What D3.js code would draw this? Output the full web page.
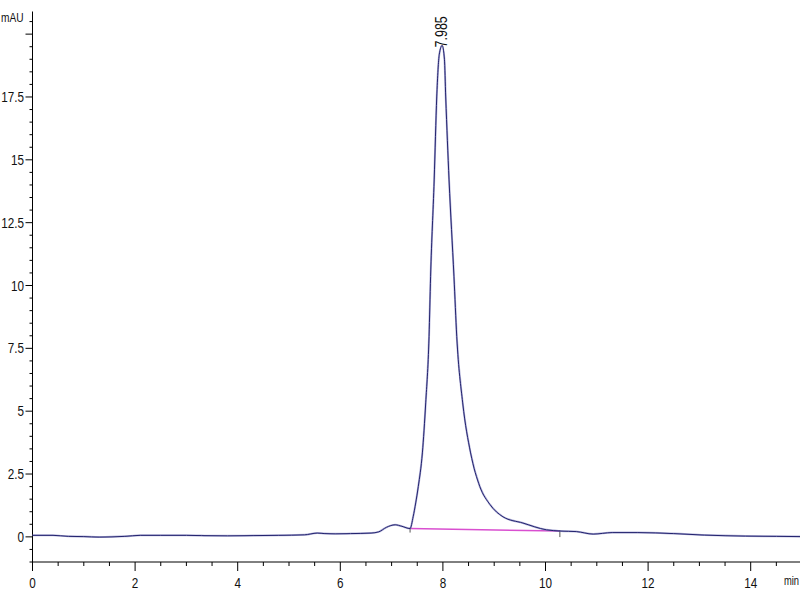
<!DOCTYPE html>
<html>
<head>
<meta charset="utf-8">
<script src="https://cdn.jsdelivr.net/npm/d3@7"></script>
<style>
  body { margin: 0; background: #fff; }
  svg text { font-family: "Liberation Sans", Arial, sans-serif; fill: #111; }
</style>
</head>
<body>
<svg id="chart" width="800" height="600"></svg>
<script>
// retention time (min) and absorbance (mAU)
var times = [0, 0.4, 0.7, 1.0, 1.3, 1.8, 2.1, 2.5, 3.0, 3.3, 3.8, 4.3, 4.8, 5.3, 5.55, 5.7, 5.9, 6.2, 6.6, 6.75,
             6.9, 7.07, 7.2, 7.36, 7.42, 7.47, 7.52, 7.6, 7.665, 7.73, 7.76, 7.83, 7.88, 7.93, 7.985,
             8.03, 8.055, 8.12, 8.216, 8.27, 8.386, 8.54, 8.72, 8.92, 9.17, 9.56, 10.02, 10.3, 10.6,
             10.93, 11.3, 11.8, 12.5, 13.1, 13.9, 14.5, 15.0];
var signal = [0.06, 0.06, 0.02, 0.01, -0.01, 0.02, 0.06, 0.06, 0.06, 0.05, 0.04, 0.05, 0.06, 0.08, 0.15, 0.13, 0.12, 0.13, 0.15, 0.2,
              0.38, 0.48, 0.42, 0.33, 0.8, 1.35, 2.0, 3.34, 5.33, 7.97, 10.35, 14.2, 17.5, 19.2, 19.55,
              19.0, 17.5, 14.2, 10.35, 7.97, 5.33, 3.34, 2.0, 1.28, 0.8, 0.55, 0.28, 0.23, 0.21,
              0.11, 0.17, 0.17, 0.13, 0.07, 0.03, 0.02, 0.01];
// integration baseline under the main peak
var baseT = [7.36, 10.28];
var baseV = [0.33, 0.23];
var peakRT = 7.985, peakTop = 19.55;

var yTicks = [0, 2.5, 5, 7.5, 10, 12.5, 15, 17.5];
var xTicks = [0, 2, 4, 6, 8, 10, 12, 14];

var svg = d3.select("#chart");
var x = d3.scaleLinear().domain([0, 15]).range([32.5, 802]);
var y = d3.scaleLinear().domain([-1, 21]).range([562, 9]);

// narrow text like the instrument export
function narrow(sel, px, py, size, anchor, rot){
    return sel.append("text")
        .attr("transform", "translate(" + px + "," + py + ")" + (rot ? " rotate(" + rot + ")" : "") + " scale(0.78,1)")
        .attr("text-anchor", anchor || "start")
        .style("font-size", size + "px");
}

var yAxis = svg.append("g");
yAxis.append("line").attr("x1", x(0)).attr("x2", x(0)).attr("y1", y(20.9)).attr("y2", y(-1))
    .attr("stroke", "#000");
d3.range(-1, 21, 0.5).forEach(function(v){
    var major = Math.abs(v % 2.5) < 1e-9;
    yAxis.append("line").attr("x1", x(0) - (major ? 7 : 3)).attr("x2", x(0))
        .attr("y1", y(v)).attr("y2", y(v)).attr("stroke", "#000");
});
yTicks.forEach(function(d){
    narrow(yAxis, 24, y(d) + 5, 15, "end").text(d);
});
narrow(svg, 1, 22, 13).text("mAU");

var xAxis = svg.append("g");
xAxis.append("line").attr("x1", x(0)).attr("x2", 800).attr("y1", y(-1)).attr("y2", y(-1))
    .attr("stroke", "#000");
d3.range(0, 15.01, 0.5).forEach(function(t){
    var major = Math.abs(t % 2) < 1e-9;
    xAxis.append("line").attr("x1", x(t)).attr("x2", x(t))
        .attr("y1", y(-1)).attr("y2", y(-1) + (major ? 9 : 4)).attr("stroke", "#000");
});
xTicks.forEach(function(d){
    narrow(xAxis, x(d), 588, 15, "middle").text(d);
});
narrow(svg, 784, 585, 12).text("min");

// baseline
svg.append("line")
    .attr("x1", x(baseT[0])).attr("y1", y(baseV[0]))
    .attr("x2", x(baseT[1])).attr("y2", y(baseV[1]))
    .attr("stroke", "#d94fd0").attr("stroke-width", 1.5);
svg.append("line").attr("x1", x(baseT[1])).attr("x2", x(baseT[1]))
    .attr("y1", y(baseV[1]) - 1).attr("y2", y(baseV[1]) + 6).attr("stroke", "#555");
svg.append("line").attr("x1", x(baseT[0])).attr("x2", x(baseT[0]))
    .attr("y1", y(baseV[0]) - 1).attr("y2", y(baseV[0]) + 4).attr("stroke", "#555");

// trace
var pts = times.map(function(t, i){ return [t, signal[i]]; });
var line = d3.line()
    .x(function(d){ return x(d[0]); })
    .y(function(d){ return y(d[1]); })
    .curve(d3.curveMonotoneX);
svg.append("path").datum(pts).attr("d", line)
    .attr("fill", "none").attr("stroke", "#8080c0").attr("stroke-width", 2).attr("opacity", 0.6);
svg.append("path").datum(pts).attr("d", line)
    .attr("fill", "none").attr("stroke", "#23236e").attr("stroke-width", 1);

// peak label
narrow(svg, x(peakRT) + 5, y(peakTop) + 2, 16, "start", -90).text(peakRT.toFixed(3));
</script>
</body>
</html>
